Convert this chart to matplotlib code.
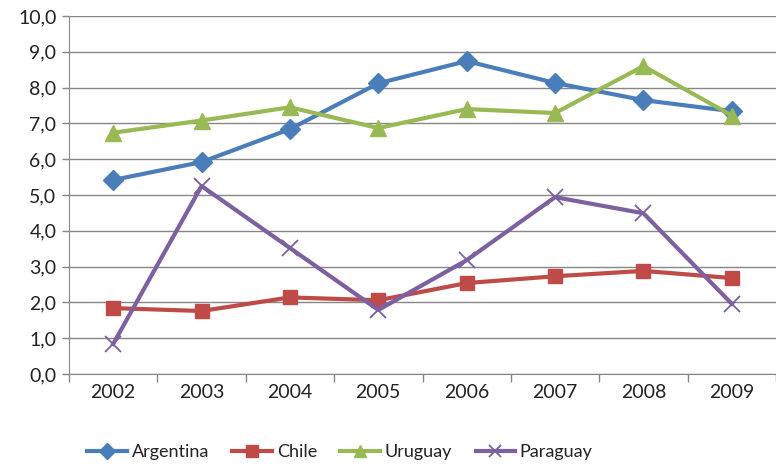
import matplotlib
matplotlib.use("Agg")
import matplotlib.pyplot as plt
from matplotlib.ticker import FuncFormatter, FixedLocator

plt.rcParams['font.family'] = ['Lato', 'DejaVu Sans']

years = ["2002", "2003", "2004", "2005", "2006", "2007", "2008", "2009"]
argentina = [5.42, 5.92, 6.84, 8.12, 8.74, 8.13, 7.65, 7.34]
chile = [1.84, 1.76, 2.14, 2.06, 2.54, 2.73, 2.88, 2.68]
uruguay = [6.74, 7.08, 7.45, 6.87, 7.40, 7.29, 8.60, 7.22]
paraguay = [0.84, 5.25, 3.52, 1.79, 3.18, 4.94, 4.49, 1.96]

series = [
    ("Argentina", argentina, "#4A7EBB", "D", 10),
    ("Chile", chile, "#BE4B48", "s", 10),
    ("Uruguay", uruguay, "#98B954", "^", 11),
    ("Paraguay", paraguay, "#7D60A0", "x", 11),
]

fig = plt.figure(figsize=(7.76, 4.68), dpi=100)
ax = fig.add_axes([69 / 776, 1 - 374 / 468, 1 - 69 / 776, (374 - 16) / 468])

x = list(range(len(years)))
for name, vals, col, mk, ms in series:
    if mk == "x":
        ax.plot(x, vals, color=col, lw=3, marker=mk, ms=ms, mew=1.3, label=name,
                solid_joinstyle="round", zorder=3)
    else:
        ax.plot(x, vals, color=col, lw=3, marker=mk, ms=ms, mec=col, label=name,
                solid_joinstyle="round", zorder=3)

ax.set_xlim(-0.5, len(years) - 0.5)
ax.set_ylim(0, 10)
ax.set_yticks([i for i in range(11)])
ax.yaxis.set_major_formatter(FuncFormatter(lambda v, p: f"{v:.1f}".replace(".", ",")))
ax.set_xticks(x)
ax.set_xticklabels(years)
ax.xaxis.set_minor_locator(FixedLocator([i - 0.5 for i in range(len(years) + 1)]))
ax.tick_params(axis="x", which="major", length=0, pad=7, labelsize=14)
ax.tick_params(axis="x", which="minor", length=6, width=1, color="#868686")
ax.tick_params(axis="y", length=5, width=1, color="#868686", labelsize=14, pad=4)
for lab in ax.get_xticklabels() + ax.get_yticklabels():
    lab.set_color("#222222")

ax.grid(axis="y", color="#868686", lw=1)
ax.set_axisbelow(True)
for s in ["top", "right"]:
    ax.spines[s].set_visible(False)
ax.spines["left"].set_color("#868686")
ax.spines["bottom"].set_color("#868686")

leg = fig.legend(loc="center", bbox_to_anchor=(340 / 776, 1 - 452 / 468), ncol=4, frameon=False,
                 fontsize=13, handlelength=2.2, handletextpad=0.25, columnspacing=1.3,
                 markerscale=0.8)
for t in leg.get_texts():
    t.set_color("#222222")

fig.savefig("out.png", dpi=100)
